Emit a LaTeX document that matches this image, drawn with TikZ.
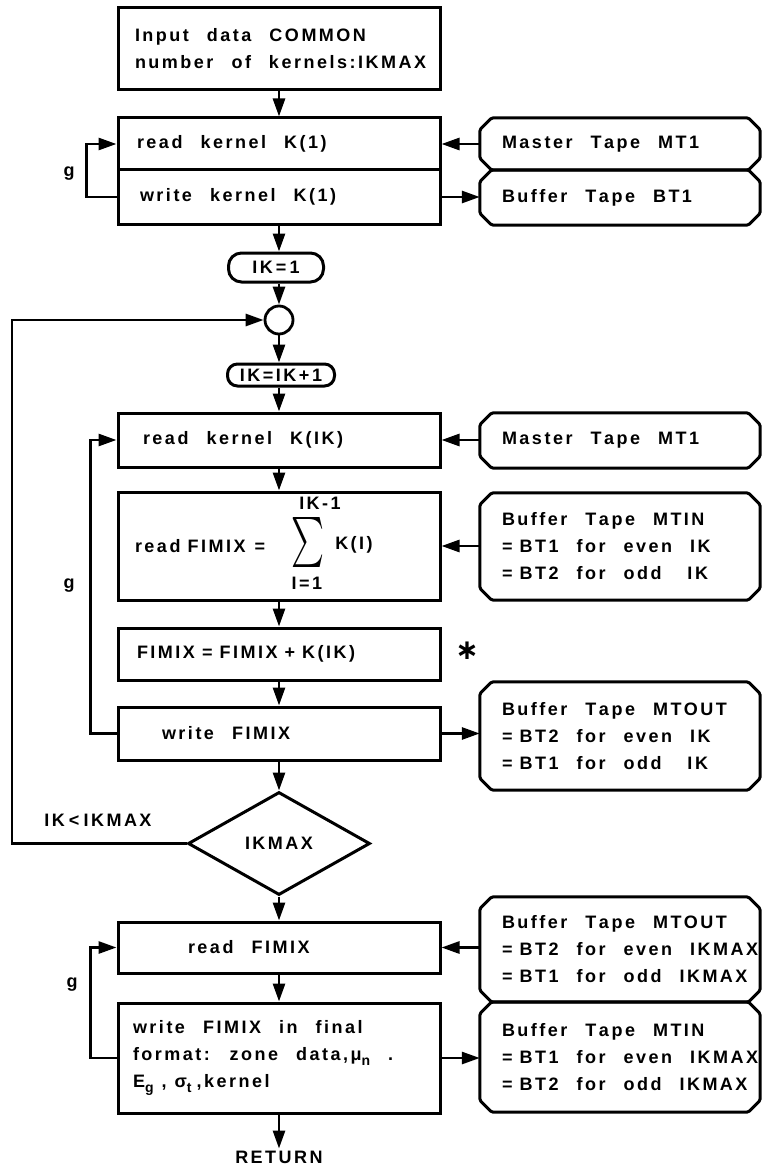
\documentclass[tikz,border=0pt]{standalone}
\usepackage{fontspec}
\usepackage{graphicx}
\setmainfont{Liberation Sans}
\newfontfamily\djv{DejaVu Sans}
\usetikzlibrary{arrows.meta,shapes.geometric}
\XeTeXinterchartoks 0 0 = {\kern2.5pt}
\newcommand\fsz{\fontsize{18}{27}\selectfont\bfseries\spaceskip=18pt plus 2pt minus 2pt\relax\XeTeXinterchartokenstate=1\relax}
\newcommand\sbs[1]{\raisebox{-5pt}{\fontsize{14}{14}\selectfont #1}}
\newcommand\Ln[1]{\mbox{#1}}
\newcommand\eq{=\hspace{7pt}}
\newcommand\tapeframe[1]{\draw[line width=3pt,rounded corners=1.5pt]
  ([xshift=12pt]#1.north west) -- ([xshift=-12pt]#1.north east) -- ([yshift=-12pt]#1.north east)
  -- ([yshift=12pt]#1.south east) -- ([xshift=-12pt]#1.south east) -- ([xshift=12pt]#1.south west)
  -- ([yshift=12pt]#1.south west) -- ([yshift=-12pt]#1.north west) -- cycle;}
\tikzset{
  box/.style={draw,line width=3pt,minimum width=322pt,inner sep=0pt,align=flush left,font=\fsz},
  tape/.style={minimum width=280pt,inner sep=0pt,align=flush left,text width=236pt,font=\fsz},
  term/.style={draw,line width=3pt,inner sep=0pt,font=\fsz},
  lbl/.style={inner sep=0pt,font=\fsz},
  arr/.style={line width=2.8pt,-{Triangle[length=18pt,width=12pt]}},
}
\begin{document}
\begin{tikzpicture}[x=1pt,y=-1pt]
\useasboundingbox (0,0) rectangle (762,1169);
% main column
\node[box,minimum height=82pt,text width=288pt] (input) at (279,49) {\Ln{Input data COMMON}\\\Ln{number of kernels:IKMAX}};
\node[box,minimum height=52pt,text width=284pt] (readA) at (279,144) {\Ln{read kernel K(1)}};
\node[box,minimum height=54pt,text width=278pt] (writeA) at (279,197) {\Ln{write kernel K(1)}};
\node[term,rounded corners=13pt,minimum width=95pt,minimum height=29pt] (ik1) at (276,267.5) {IK\hspace{3pt}=\hspace{3pt}1};
\node[draw,circle,line width=2.8pt,minimum size=28pt,inner sep=0pt] (circ) at (279,320) {};
\node[term,rounded corners=10pt,minimum width=107pt,minimum height=22pt] (ikinc) at (281,375) {IK=IK+1};
\node[box,minimum height=54pt,text width=272pt] (readK) at (279,440) {\Ln{read kernel K(IK)}};
\node[box,minimum height=108pt,text width=288pt] (sumbox) at (279,546) {\Ln{read\hspace{7pt}FIMIX\hspace{9pt}=}};
\node[inner sep=0pt] (sig) at (308,542) {\resizebox*{33pt}{50pt}{$\sum$}};
\node[lbl] (sup) at (320,503) {IK-1};
\node[lbl] (sub) at (307,583) {I=1};
\node[lbl] (ki) at (354,545) {K(I)};
\node[box,minimum height=52pt,text width=284pt] (fimix) at (279,654) {\Ln{FIMIX\hspace{7pt}=\hspace{7pt}FIMIX\hspace{7pt}+\hspace{7pt}K(IK)}};
\node[box,minimum height=53pt,text width=234pt] (writeF) at (279,733.5) {\Ln{write FIMIX}};
\node[diamond,draw,line width=3pt,minimum width=182pt,minimum height=103pt,inner sep=0pt,font=\fsz] (dia) at (279,843.5) {IKMAX};
\node[box,minimum height=51pt,text width=182pt] (readF) at (279,947.5) {\Ln{read FIMIX}};
\node[box,minimum height=110pt,text width=292pt] (final) at (279,1058) {\Ln{write FIMIX in final}\\\Ln{format: zone data,μ\sbs{n} .}\\\Ln{E\sbs{g}\hspace{8pt},\hspace{8pt}σ\sbs{t}\hspace{5pt},kernel}};
\node[lbl,inner sep=2pt] (ret) at (279,1157) {RETURN};
% tapes
\node[tape,minimum height=52pt] (t1) at (620,144) {\Ln{Master Tape MT1}};
\node[tape,minimum height=55pt] (t2) at (620,197.5) {\Ln{Buffer Tape BT1}};
\node[tape,minimum height=55pt] (t3) at (620,440.5) {\Ln{Master Tape MT1}};
\node[tape,minimum height=107pt] (t4) at (620,546.5) {\Ln{Buffer Tape MTIN}\\\Ln{\eq BT1 for even IK}\\\Ln{\eq BT2 for odd \hspace{8pt}IK}};
\node[tape,minimum height=108pt] (t5) at (620,736) {\Ln{Buffer Tape MTOUT}\\\Ln{\eq BT2 for even IK}\\\Ln{\eq BT1 for odd \hspace{8pt}IK}};
\node[tape,minimum height=105pt] (t6) at (620,949.5) {\Ln{Buffer Tape MTOUT}\\\Ln{\eq BT2 for even IKMAX}\\\Ln{\eq BT1 for odd IKMAX}};
\node[tape,minimum height=110pt] (t7) at (620,1057) {\Ln{Buffer Tape MTIN}\\\Ln{\eq BT1 for even IKMAX}\\\Ln{\eq BT2 for odd IKMAX}};
\foreach \t in {t1,t2,t3,t4,t5,t6,t7} {\tapeframe{\t}}
% labels
\node[lbl] (g1) at (69,174) {g};
\node[lbl] (g2) at (69,586) {g};
\node[lbl] (g3) at (72,985) {g};
\node[lbl] (cond) at (98,820) {IK\hspace{4pt}<\hspace{4pt}IKMAX};
\node[inner sep=0pt,font={\djv\bfseries\fontsize{28}{28}\selectfont}] (star) at (467,651) {∗};
% vertical flow
\draw[arr] (input.south -| readA.north) -- (readA.north);
\draw[arr] (writeA.south) -- (writeA.south |- ik1.north);
\draw[arr] (ik1.south -| circ.south) -- (circ.north);
\draw[arr] (circ.south) -- (circ.south |- ikinc.north);
\draw[arr] (ikinc.south -| readK.north) -- (readK.north);
\draw[arr] (readK.south) -- (sumbox.north);
\draw[arr] (sumbox.south) -- (fimix.north);
\draw[arr] (fimix.south) -- (writeF.north);
\draw[arr] (writeF.south) -- (dia.north);
\draw[arr] (dia.south) -- (readF.north);
\draw[arr] (readF.south) -- (final.north);
\draw[arr] (final.south) -- (ret.north);
% tape connectors
\draw[arr] (t1.west |- readA.east) -- (readA.east);
\draw[arr] (writeA.east) -- (writeA.east -| t2.west);
\draw[arr] (t3.west |- readK.east) -- (readK.east);
\draw[arr] (t4.west |- sumbox.east) -- (sumbox.east);
\draw[arr] (writeF.east) -- (writeF.east -| t5.west);
\draw[arr] (t6.west |- readF.east) -- (readF.east);
\draw[arr] (final.east) -- (final.east -| t7.west);
% loops
\draw[arr] (writeA.west) -- ++(-30,0) |- (readA.west);
\draw[arr] (writeF.west) -- ++(-26,0) |- (readK.west);
\draw[arr] (final.west) -- ++(-26,0) |- (readF.west);
\coordinate (lp) at (12,843.5);
\draw[arr] (dia.west) -- (lp) |- (circ.west);
\end{tikzpicture}
\end{document}
